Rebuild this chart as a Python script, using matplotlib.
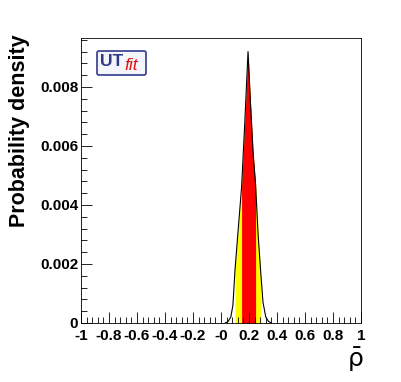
import matplotlib
matplotlib.use("Agg")
import matplotlib.pyplot as plt
from matplotlib.ticker import MultipleLocator, FixedLocator, FixedFormatter
from matplotlib.patches import FancyBboxPatch

plt.rcParams['font.family'] = ['Liberation Sans', 'DejaVu Sans']

# posterior of rho-bar
rho = [0.03, 0.05, 0.07, 0.085, 0.10, 0.12, 0.147, 0.17, 0.193,
       0.21, 0.23, 0.247, 0.265, 0.284, 0.30, 0.32, 0.34, 0.36]
dens = [0.0, 0.00005, 0.0002, 0.0006, 0.0018, 0.0030, 0.0046, 0.0068, 0.0092,
        0.0075, 0.0057, 0.0047, 0.0030, 0.0017, 0.0007, 0.0002, 0.00005, 0.0]
lo95, hi95 = 0.10, 0.284
lo68, hi68 = 0.147, 0.247

xticks = [-1, -0.8, -0.6, -0.4, -0.2, 0, 0.2, 0.4, 0.6, 0.8, 1]
xlabels = ['-1', '-0.8', '-0.6', '-0.4', '-0.2', '-0', '0.2', '0.4', '0.6', '0.8', '1']
yticks = [0, 0.002, 0.004, 0.006, 0.008]
ylabels = ['0', '0.002', '0.004', '0.006', '0.008']

fig = plt.figure(figsize=(4.01, 3.82), dpi=100)
ax = fig.add_axes([81/401, 1 - 323/382, 280/401, 285/382])

in95 = [lo95 <= r <= hi95 for r in rho]
in68 = [lo68 <= r <= hi68 for r in rho]
ax.fill_between(rho, dens, where=in95, color='#ffff00', lw=0)
ax.fill_between(rho, dens, where=in68, color='#ff0000', lw=0)
ax.plot(rho, dens, color='black', lw=0.8)

ax.set_xlim(-1, 1)
ax.set_ylim(0, 0.00966)
ax.xaxis.set_major_locator(FixedLocator(xticks))
ax.xaxis.set_major_formatter(FixedFormatter(xlabels))
ax.xaxis.set_minor_locator(MultipleLocator(0.04))
ax.yaxis.set_major_locator(FixedLocator(yticks))
ax.yaxis.set_major_formatter(FixedFormatter(ylabels))
ax.yaxis.set_minor_locator(MultipleLocator(0.0004))
ax.tick_params(which='both', direction='in', top=False, right=False,
               labelsize=11, width=0.6, pad=2)
ax.tick_params(axis='x', pad=4)
ax.tick_params(which='major', length=8)
ax.tick_params(which='minor', length=4)
for lab in ax.get_xticklabels() + ax.get_yticklabels():
    lab.set_fontweight('bold')
for s in ax.spines.values():
    s.set_linewidth(0.6)

fig.text(20/401, 1 - 131/382, 'Probability density', rotation=90,
         fontsize=15.5, fontweight='bold', ha='center', va='center')
fig.text(355/401, 1 - 360/382, r'$\bar{\mathrm{\rho}}$', fontsize=18,
         ha='center', va='center')

# UTfit logo
box = FancyBboxPatch((97/401, 1 - 75/382), 49/401, 24/382,
                     boxstyle='round,pad=0,rounding_size=0.005',
                     transform=fig.transFigure, facecolor='#f4f4fb',
                     edgecolor='#333a8c', lw=1.2)
fig.patches.append(box)
fig.text(100/401, 1 - 62/382, 'UT', color='#2e3a87', fontsize=12.5,
         fontweight='bold', va='center', ha='left')
fig.text(124/401, 1 - 66/382, 'fit', color='#dd1111', fontsize=12.5,
         style='italic', va='center', ha='left')

fig.savefig('out.png', dpi=100)
